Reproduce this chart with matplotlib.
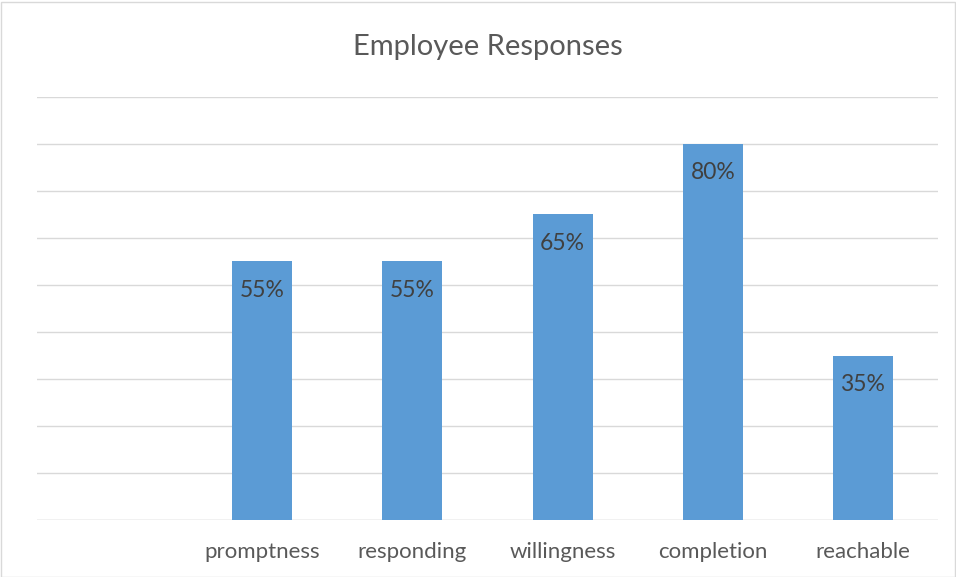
import matplotlib
matplotlib.use("Agg")
import matplotlib.pyplot as plt
from matplotlib.patches import Rectangle

categories = ["", "promptness", "responding", "willingness", "completion", "reachable"]
values = [None, 55, 55, 65, 80, 35]
title = "Employee Responses"

plt.rcParams['font.family'] = ['Lato', 'DejaVu Sans']

W, H = 956, 577
fig = plt.figure(figsize=(W/100, H/100), dpi=100)
fig.patch.set_facecolor("white")
fig.add_artist(Rectangle((0.5/W, 0.5/H), 1 - 2/W, 1 - 2/H, transform=fig.transFigure,
                         fill=False, edgecolor="#D9D9D9", linewidth=1))

left, right, bottom, top = 37, 938, 520, 97
ax = fig.add_axes([left/W, (H-bottom)/H, (right-left)/W, (bottom-top)/H])
ax.set_xlim(-0.5, len(categories) - 0.5)
ax.set_ylim(0, 90)
ax.set_yticks(range(0, 91, 10))
ax.yaxis.grid(True, color="#D9D9D9", linewidth=1)
ax.set_axisbelow(True)
for s in ax.spines.values():
    s.set_visible(False)
ax.tick_params(axis='y', left=False, labelleft=False)
ax.tick_params(axis='x', bottom=False, labelsize=16, labelcolor="#595959", pad=12.5)
ax.axhline(0, color="#D9D9D9", linewidth=1)

xs = list(range(len(categories)))
for x, v in zip(xs, values):
    if v is None:
        continue
    ax.bar(x, v, width=0.4, color="#5B9BD5", zorder=2)
    ax.annotate(f"{v}%", (x, v), xytext=(0, -29), textcoords="offset pixels",
                ha="center", va="center", fontsize=16.5, color="#404040", zorder=3)

ax.set_xticks(xs)
ax.set_xticklabels(categories)

fig.text(488/W, 1 - 47/H, title, ha="center", va="center", fontsize=21, color="#595959")

fig.savefig("out.png", dpi=100, facecolor="white")
